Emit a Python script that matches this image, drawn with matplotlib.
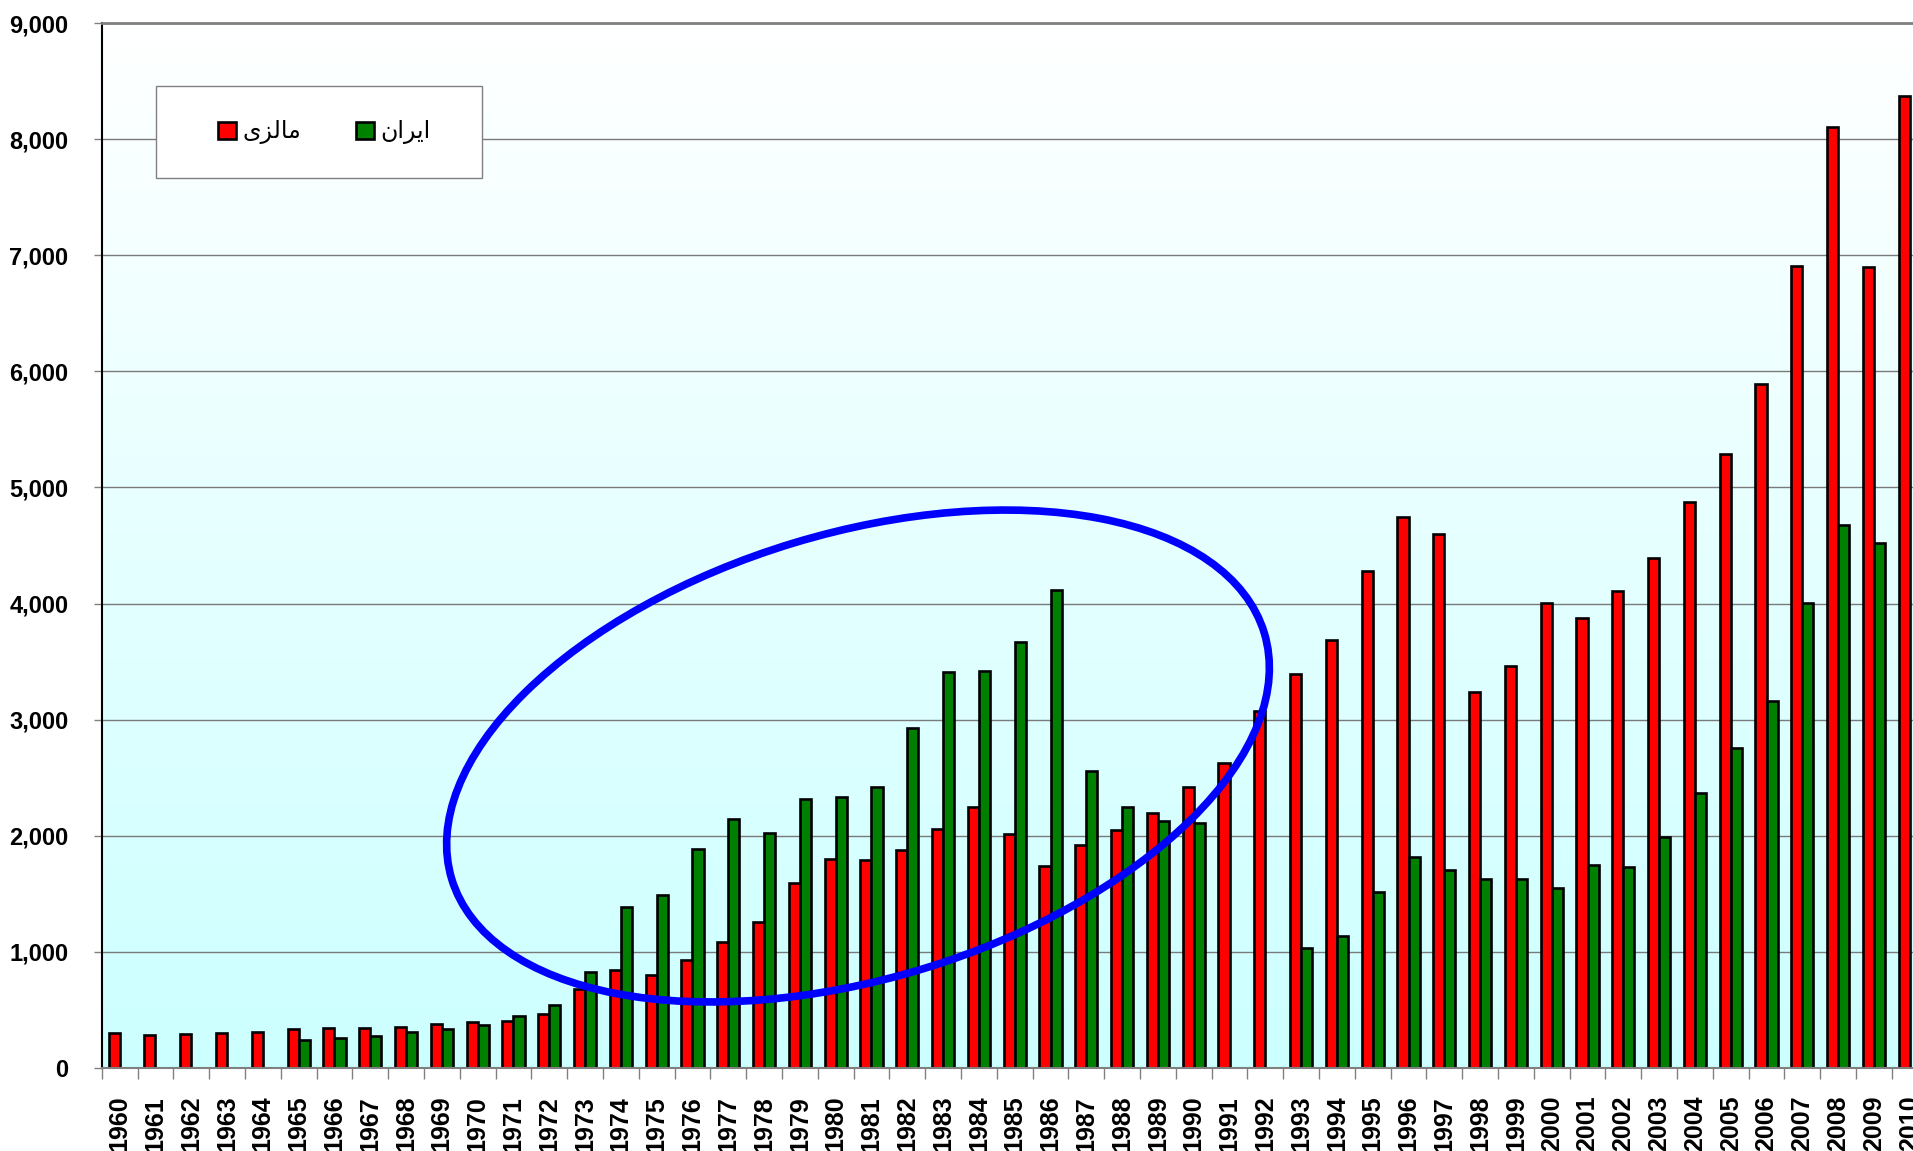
import numpy as np
import matplotlib
matplotlib.use("Agg")
import matplotlib.pyplot as plt
from matplotlib.patches import Ellipse, Rectangle
from matplotlib.transforms import IdentityTransform

# data
years = list(range(1960, 2011))
malaysia = [302, 287, 293, 302, 313, 333, 348, 348, 354, 380,
            392, 404, 468, 678, 840, 803, 932, 1086, 1261, 1595,
            1799, 1790, 1878, 2055, 2250, 2012, 1741, 1924, 2052, 2194,
            2419, 2630, 3076, 3394, 3689, 4284, 4745, 4598, 3234, 3461,
            4005, 3873, 4112, 4394, 4871, 5286, 5889, 6905, 8101, 6902,
            8375]
nan = np.nan
iran = [nan, nan, nan, nan, nan, 244, 261, 279, 312, 340,
        370, 448, 543, 829, 1390, 1492, 1884, 2146, 2023, 2314,
        2332, 2422, 2929, 3409, 3415, 3671, 4120, 2554, 2246, 2131,
        2114, nan, nan, 1035, 1138, 1519, 1820, 1701, 1627, 1628,
        1553, 1745, 1734, 1991, 2370, 2754, 3158, 4002, 4674, 4523,
        nan]
yticks = list(range(0, 9001, 1000))

# matplotlib has no arabic shaping, so labels are given as
# presentation forms in visual (left to right) order
# "مالزی" and "ایران"
label_malaysia = "\u06CC\uFEB0\uFEDF\uFE8E\uFEE3"
label_iran = "\u0646\u0627\uFEAE\uFEF3\u0627"

W, H = 1913, 1151
fig = plt.figure(figsize=(W / 100, H / 100), dpi=100)
# plot area runs a bit past the right edge, like the original
ax = fig.add_axes([101.7 / W, 83 / H, 1826 / W, 1045 / H])

# gradient background, white on top to light cyan at the bottom
grad = np.linspace(0, 1, 256).reshape(-1, 1)
top = np.array([1.0, 1.0, 1.0])
bot = np.array([0.8, 1.0, 1.0])
img = top[None, None, :] * (1 - grad[..., None]) + bot[None, None, :] * grad[..., None]
ax.imshow(img, extent=[0, 1, 0, 1], transform=ax.transAxes, aspect="auto", zorder=0)

x = np.arange(len(years))
w = 0.31
b1 = ax.bar(x - w / 2, malaysia, w, color="#FF0000", edgecolor="black", linewidth=1.9,
            label=label_malaysia, zorder=2)
b2 = ax.bar(x + w / 2, iran, w, color="#008000", edgecolor="black", linewidth=1.9,
            label=label_iran, zorder=2)

ax.set_xlim(-0.5, len(years) - 0.5)
ax.set_ylim(0, 9000)

ax.set_axisbelow(True)
ax.yaxis.grid(True, color="#7a7a7a", linewidth=1.0)
ax.set_yticks(yticks)
ax.set_yticklabels([f"{v:,}" for v in yticks])
ax.tick_params(axis="y", direction="out", length=6, width=1, color="#808080", pad=18,
               labelsize=17)

ax.set_xticks(x)
ax.set_xticklabels([str(y) for y in years], rotation=90)
ax.set_xticks(np.arange(len(years) + 1) - 0.5, minor=True)
ax.tick_params(axis="x", which="major", length=0, pad=20, labelsize=18)
ax.tick_params(axis="x", which="minor", direction="out", length=8, width=1, color="#808080")

for lab in ax.get_xticklabels() + ax.get_yticklabels():
    lab.set_fontfamily("Liberation Sans")
    lab.set_fontweight("bold")

ax.spines["left"].set_color("black")
ax.spines["left"].set_linewidth(1.5)
ax.spines["bottom"].set_color("#808080")
ax.spines["bottom"].set_linewidth(1.5)
ax.spines["top"].set_color("#808080")
ax.spines["top"].set_linewidth(2.0)
ax.spines["right"].set_visible(False)

# legend box
bx0, bx1 = 0.0296, 0.2084
by0, by1 = 0.8517, 0.9397
ax.add_patch(Rectangle((bx0, by0), bx1 - bx0, by1 - by0, transform=ax.transAxes,
                       facecolor="white", edgecolor="#808080", linewidth=1.0, zorder=5))
leg = ax.legend(handles=[b1, b2], ncol=2, loc="center",
                bbox_to_anchor=((bx0 + bx1) / 2 + 0.003, (by0 + by1) / 2),
                frameon=False, prop={"family": "DejaVu Sans", "size": 17},
                handlelength=0.75, handleheight=0.75, handletextpad=0.3,
                columnspacing=2.3)
leg.set_zorder(6)

# blue ellipse drawn on top, in pixel coordinates
ell = Ellipse((858, H - 756), 849, 445, angle=16.85, transform=IdentityTransform(),
              fill=False, edgecolor="#0000FF", linewidth=5.5, zorder=10)
fig.add_artist(ell)

fig.savefig("out.png", dpi=100)
